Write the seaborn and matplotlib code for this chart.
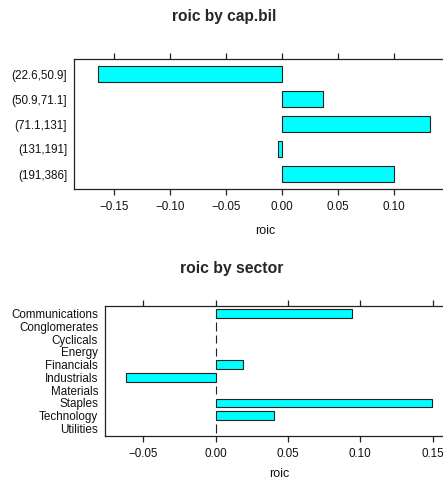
import numpy as np
import pandas as pd
import matplotlib
matplotlib.use("Agg")
import matplotlib.pyplot as plt
import seaborn as sns

# data
cap_levels = ["(22.6,50.9]", "(50.9,71.1]", "(71.1,131]", "(131,191]", "(191,386]"]
cap_roic = [-0.1646, 0.0363, 0.1318, -0.0039, 0.1003]

sectors = ["Communications", "Conglomerates", "Cyclicals", "Energy", "Financials",
           "Industrials", "Materials", "Staples", "Technology", "Utilities"]
sector_roic = [0.0945, 0.0, 0.0, 0.0, 0.0191, -0.0620, 0.0, 0.1494, 0.0405, 0.0]

cap_ticks = [-0.15, -0.10, -0.05, 0.00, 0.05, 0.10]
sector_ticks = [-0.05, 0.00, 0.05, 0.10, 0.15]

sns.set_style("white")
plt.rcParams['font.family'] = ['Liberation Sans', 'DejaVu Sans']

W, H = 443, 480
fig = plt.figure(figsize=(W / 100, H / 100), dpi=100)


def panel(left, right, top, bottom):
    return fig.add_axes([left / W, 1 - bottom / H, (right - left) / W, (bottom - top) / H])


def fmt_minus(v):
    return ("%.2f" % v).replace('-', '\u2212')


def style(ax, ticks, labelpad):
    ax.set_xticks(ticks)
    ax.set_xticklabels([fmt_minus(t) for t in ticks])
    ax.tick_params(axis='x', which='both', direction='out', length=4, width=0.9,
                   color='#222222', top=True, bottom=True, labeltop=False,
                   labelsize=8.4, pad=4.5, labelcolor='#111111')
    ax.tick_params(axis='y', length=0, labelsize=8.4, pad=5, labelcolor='#111111')
    for s in ax.spines.values():
        s.set_visible(True)
        s.set_color('#222222')
        s.set_linewidth(0.9)
    ax.set_ylabel('')
    ax.set_xlabel('roic', fontsize=9, labelpad=labelpad, color='#111111')


# panel 1: roic by cap.bil
df_cap = pd.DataFrame({'cap': cap_levels, 'roic': cap_roic})
ax1 = panel(74, 456, 59, 189)
sns.barplot(data=df_cap, x='roic', y='cap', order=cap_levels, orient='h', color='cyan',
            saturation=1, width=2 / 3, edgecolor='#222222', linewidth=0.8, ax=ax1)
ax1.set_xlim((74 - 282) / 1120, (456 - 282) / 1120)
ax1.set_ylim(4.6, -0.6)
style(ax1, cap_ticks, 9)
fig.text(224 / W, 1 - 17 / H, 'roic by cap.bil', ha='center', va='center',
         fontsize=11.2, fontweight='bold')

# panel 2: roic by sector
df_sec = pd.DataFrame({'sector': sectors, 'roic': sector_roic})
ax2 = panel(105, 453, 306, 436)
sns.barplot(data=df_sec, x='roic', y='sector', order=sectors, orient='h', color='cyan',
            saturation=1, width=2 / 3, edgecolor='#222222', linewidth=0.8, ax=ax2)
ax2.set_xlim((105 - 215.7) / 1446, (453 - 215.7) / 1446)
ax2.set_ylim(9.6, -0.6)
style(ax2, sector_ticks, 6)
fig.text(232 / W, 1 - 268 / H, 'roic by sector', ha='center', va='center',
         fontsize=11.3, fontweight='bold')

fig.savefig('out.png', dpi=100)
